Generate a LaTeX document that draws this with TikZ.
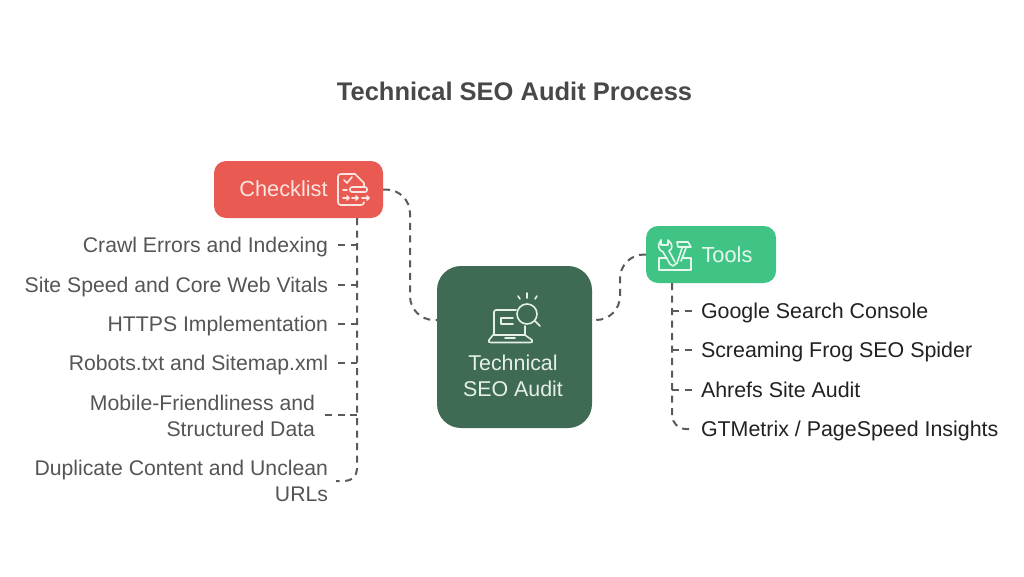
\documentclass[tikz,border=0pt]{standalone}
\usepackage{fontspec}
\setmainfont{Liberation Sans}
\definecolor{linkgray}{HTML}{5A5A5A}
\definecolor{titlegray}{HTML}{484848}
\definecolor{itemgray}{HTML}{555555}
\definecolor{itemdark}{HTML}{222222}
\definecolor{redbox}{HTML}{E85A52}
\definecolor{greenbox}{HTML}{40C485}
\definecolor{darkbox}{HTML}{3F6B55}
\definecolor{redtext}{HTML}{FCE4E0}
\definecolor{greentext}{HTML}{E6F8EE}
\definecolor{darktext}{HTML}{E4F0E8}
\newcommand{\itemstrut}{\rule[-5.8pt]{0pt}{26pt}}
\tikzset{
  box/.style={draw=none, rounded corners=12pt, inner sep=0pt, outer sep=0pt},
  boxtext/.style={inner sep=0pt, font=\fontsize{21.8}{26}\selectfont,
    execute at begin node=\itemstrut, execute at end node=\itemstrut},
  link/.style={draw=linkgray, line width=2pt, dash pattern=on 7pt off 5.5pt},
  leftitem/.style={anchor=east, inner sep=0pt, outer sep=10pt, align=right, text=itemgray,
    font=\fontsize{21.2}{26}\selectfont, execute at begin node=\itemstrut, execute at end node=\itemstrut},
  rightitem/.style={anchor=west, inner sep=0pt, outer sep=8pt, align=left, text=itemdark,
    font=\fontsize{21.4}{26}\selectfont, execute at begin node=\itemstrut, execute at end node=\itemstrut},
  icon/.style={line width=1.6pt, line cap=round, line join=round},
}

\begin{document}
\begin{tikzpicture}[x=1pt, y=-1pt]
    \useasboundingbox (0,0) rectangle (1024,576);
    \fill [white] (0,0) rectangle (1024,576);

    % title
    \node (title) [inner sep=0pt, text=titlegray, font=\fontsize{25.5}{30}\selectfont\bfseries] at (514.5,91) {Technical SEO Audit Process};

    % boxes
    \node (checklist) [box, fill=redbox, minimum width=169pt, minimum height=57pt] at (298.5,189.5) {};
    \node (tools) [box, fill=greenbox, minimum width=130pt, minimum height=57pt] at (711,254.5) {};
    \node (audit) [box, fill=darkbox, rounded corners=24pt, minimum width=155pt, minimum height=162pt] at (514.5,347) {};

    % box labels
    \node (checklisttext) [boxtext, text=redtext] at (283.5,189) {Checklist};
    \node (toolstext) [boxtext, text=greentext] at (727,255) {Tools};
    \node (audittext) [boxtext, text=darktext, align=center, font=\fontsize{21.4}{26}\selectfont] at (513,379) {Technical\\SEO Audit};

    % left items
    \node (crawl) [leftitem] at (338,245) {Crawl Errors and Indexing};
    \node (speed) [leftitem] at (338,285) {Site Speed and Core Web Vitals};
    \node (https) [leftitem] at (338,324) {HTTPS Implementation};
    \node (robots) [leftitem] at (338,363) {Robots.txt and Sitemap.xml};
    \node (mobile) [leftitem] at (325,419) {Mobile-Friendliness and\\Structured Data};
    \node (dup) [leftitem] at (338,484) {Duplicate Content and Unclean\\URLs};

    % right items
    \node (google) [rightitem] at (693,311) {Google Search Console};
    \node (frog) [rightitem] at (693,350) {Screaming Frog SEO Spider};
    \node (ahrefs) [rightitem] at (693,390) {Ahrefs Site Audit};
    \node (gtm) [rightitem] at (693,429) {GTMetrix / PageSpeed Insights};

    % coordinates to be reused
    \coordinate (ctrunk) at (357,218);
    \coordinate (ttrunk) at (672,283);
    \coordinate (cmid) at (410,250);
    \coordinate (tmid) at (620,290);
    \coordinate (auditleft) at (437,320);
    \coordinate (auditright) at (592,320);
    \coordinate (mobileend) at (325,415);
    \coordinate (dupend) at (336,481);

    % links to the middle box
    \draw [link, rounded corners=24pt] (checklist.east) -| (auditleft -| cmid) -- (auditleft);
    \draw [link, rounded corners=24pt] (tools.west) -| (auditright -| tmid) -- (auditright);

    % left tree
    \draw [link, rounded corners=12pt] (ctrunk) |- (dupend);
    \draw [link] (crawl.east) -- (crawl.east -| ctrunk);
    \draw [link] (speed.east) -- (speed.east -| ctrunk);
    \draw [link] (https.east) -- (https.east -| ctrunk);
    \draw [link] (robots.east) -- (robots.east -| ctrunk);
    \draw [link] (mobileend) -- (mobileend -| ctrunk);

    % right tree
    \draw [link, rounded corners=14pt] (ttrunk) |- (gtm.west);
    \draw [link] (ttrunk |- google.west) -- (google.west);
    \draw [link] (ttrunk |- frog.west) -- (frog.west);
    \draw [link] (ttrunk |- ahrefs.west) -- (ahrefs.west);

    % checklist icon
    \begin{scope}[icon, draw=redtext]
      \draw (355,174) -- (341,174) .. controls (339,174) and (338,175) .. (338,177) -- (338,202) .. controls (338,204) and (339,205) .. (341,205) -- (361,205) .. controls (363,205) and (364,204) .. (364,202);
      \draw (355,174) -- (364,183) -- (364,186);
      \draw (344,180) -- (347,183) -- (352,177);
      \draw (343,190) -- (347,190);
      \draw [rounded corners=2pt] (350,187) rectangle (367,192);
      \draw (343,198) -- (349,198);
      \draw (352,198) -- (358,198);
      \draw (362,198) -- (369,198);
      \draw (347,196) -- (349,198) -- (347,200);
      \draw (356,196) -- (358,198) -- (356,200);
      \draw (367,196) -- (369,198) -- (367,200);
    \end{scope}

    % tools icon
    \begin{scope}[icon, draw=greentext]
      \draw (667,258) -- (659,258) -- (659,270) -- (691,270) -- (691,258) -- (683,258);
      \draw (661,240) .. controls (657,245) and (658,250) .. (663,252) -- (670,264) -- (673,266) -- (677,263) -- (682,248);
      \draw (661,240) -- (661,245) -- (668,245) -- (668,240) .. controls (673,244) and (673,249) .. (669,251) -- (675,262);
      \draw (686,248) -- (681,261);
      \draw (677,242) -- (688,242) -- (691,247) -- (678,247) -- cycle;
    \end{scope}

    % audit icon
    \begin{scope}[icon, draw=darktext]
      \draw (494,335) -- (494,312) .. controls (494,311) and (495,310) .. (496,310) -- (516,310);
      \draw (493,335) -- (489,340) .. controls (488,342) and (489,342.5) .. (491,342.5) -- (530,342.5) .. controls (532,342.5) and (533,342) .. (532,340) -- (525,335) -- (493,335);
      \draw (525,326) -- (525,335);
      \draw (505,338) -- (515,338);
      \draw (513,318) -- (501,318) -- (501,324) -- (513,324);
      \draw (527,314) circle [radius=10pt];
      \draw (535,321) -- (540,326);
      \draw (527,293) -- (527,298);
      \draw (518,296) -- (520,299);
      \draw (537,296) -- (535,299);
    \end{scope}
\end{tikzpicture}
\end{document}
